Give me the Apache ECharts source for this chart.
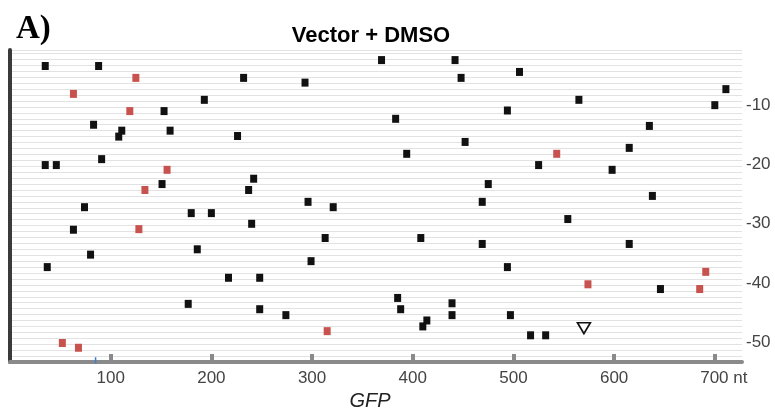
<!DOCTYPE html>
<html>
<head>
<meta charset="utf-8">
<script src="https://cdn.jsdelivr.net/npm/echarts@6/dist/echarts.min.js"></script>
<style>
html,body{margin:0;padding:0;background:#fff;}
#chart{width:775px;height:414px;}
</style>
</head>
<body>
<div id="chart"></div>
<script>
// ---- data ----
const blackPoints = [
  [35,-3.4],[88,-3.4],[232,-5.4],[193,-9.1],[153,-11.0],[83,-13.3],[111,-14.3],[108,-15.3],
  [159,-14.3],[226,-15.2],[91,-19.1],[35,-20.1],[46,-20.1],[151,-23.3],[242,-22.4],[237,-24.3],
  [74,-27.2],[180,-28.2],[200,-28.2],[240,-30.0],[63,-31.0],[186,-34.3],[80,-35.2],[37,-37.3],
  [217,-39.1],[248,-39.1],[177,-43.5],[248,-44.4],[274,-45.4],
  [369,-2.4],[442,-2.4],[448,-5.4],[293,-6.2],[494,-10.9],[383,-12.3],[452,-16.2],[394,-18.2],
  [475,-23.3],[296,-26.3],[321,-27.2],[469,-26.3],[313,-32.4],[408,-32.4],[469,-33.4],[299,-36.3],
  [494,-37.3],[385,-42.5],[388,-44.4],[439,-43.4],[439,-45.4],[414,-46.3],[410,-47.3],[497,-45.4],
  [506,-4.4],[711,-7.3],[565,-9.1],[700,-10.0],[635,-13.5],[615,-17.2],[525,-20.1],[598,-20.9],
  [638,-25.3],[554,-29.2],[615,-33.4],[646,-41.0],[517,-48.8],[532,-48.8]
];
const redPoints = [
  [125,-5.4],[63,-8.1],[119,-11.0],[156,-20.9],[134,-24.3],[128,-30.9],[315,-48.1],
  [52,-50.1],[68,-50.9],[543,-18.2],[691,-38.1],[574,-40.2],[685,-41.0]
];
const trianglePoints = [[570,-47.6]];
const blueMarks = [[85,-53.0]];
const xTickValues = [100,200,300,400,500,600,700];
const yTickValues = [-10,-20,-30,-40,-50];
const xMin = 0, xMax = 727;
const yMin = -53.3, yMax = -0.7;

const FONT = 'Liberation Sans, Arial, Helvetica, sans-serif';
const chart = echarts.init(document.getElementById('chart'), null, {renderer:'canvas'});
chart.setOption({
  animation:false,
  backgroundColor:'#ffffff',
  title:[
    {text:'A)', left:11, top:8, textStyle:{fontFamily:'Liberation Serif, Times New Roman, serif', fontWeight:'bold', fontSize:33, color:'#000'}},
    {text:'Vector + DMSO', left:366, top:20, textAlign:'center', textStyle:{fontFamily:FONT, fontWeight:'bold', fontSize:22, color:'#000'}}
  ],
  grid:{left:10, right:33, top:50, bottom:52, containLabel:false, outerBoundsMode:'none'},
  xAxis:{
    type:'value', min:xMin, max:xMax, position:'bottom',
    axisLine:{show:true, onZero:false, lineStyle:{color:'#8a8a8a', width:4}},
    axisTick:{show:true, inside:true, length:8, customValues:xTickValues, lineStyle:{color:'#8a8a8a', width:4}},
    axisLabel:{customValues:xTickValues, margin:8, fontSize:17, color:'#444', fontFamily:FONT,
      formatter:function(v){ return v===700 ? '{p|}700 nt' : String(v); },
      rich:{p:{width:18}}},
    splitLine:{show:false},
    name:'GFP', nameLocation:'middle', nameGap:29,
    nameTextStyle:{fontStyle:'italic', fontSize:20, color:'#222', fontFamily:FONT, padding:[0,12,0,0]}
  },
  yAxis:[
    {type:'value', min:yMin, max:yMax, position:'right',
      axisLine:{show:false, onZero:false}, axisTick:{show:false}, splitLine:{show:false},
      axisLabel:{customValues:yTickValues, margin:4, fontSize:17, color:'#444', fontFamily:FONT}},
    {type:'value', min:yMin, max:yMax, interval:1, position:'left',
      axisLine:{show:true, onZero:false, lineStyle:{color:'#3a3a3a', width:4}},
      axisTick:{show:false}, axisLabel:{show:false},
      splitLine:{show:true, lineStyle:{color:'#e2e2e2', width:1}}}
  ],
  series:[
    {type:'scatter', yAxisIndex:0, data:blackPoints, symbol:'rect', symbolSize:[7,8],
      itemStyle:{color:'#111', opacity:1}, z:3},
    {type:'scatter', yAxisIndex:0, data:redPoints, symbol:'rect', symbolSize:[7,8],
      itemStyle:{color:'#c8524e', opacity:1}, z:3},
    {type:'scatter', yAxisIndex:0, data:trianglePoints, symbol:'triangle', symbolRotate:180, symbolSize:[13,11],
      itemStyle:{color:'#fff', borderColor:'#111', borderWidth:1.6, opacity:1}, z:3},
    {type:'scatter', yAxisIndex:0, data:blueMarks, symbol:'rect', symbolSize:[1.5,6],
      itemStyle:{color:'#3d7ad6', opacity:1}, z:4}
  ]
});
</script>
</body>
</html>
